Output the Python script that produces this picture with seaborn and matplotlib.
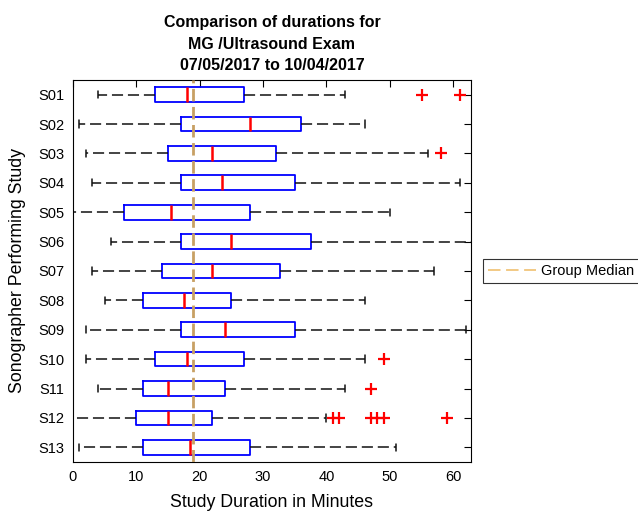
import matplotlib
matplotlib.use("Agg")
import matplotlib.pyplot as plt
import seaborn as sns
import pandas as pd

# Resumen de cada ecógrafo (minutos)
sonografos = ["S01", "S02", "S03", "S04", "S05", "S06", "S07",
              "S08", "S09", "S10", "S11", "S12", "S13"]
bigote_inf = [4, 1, 2, 3, 0, 6, 3, 5, 2, 2, 4, 0, 1]
q1 = [13, 17, 15, 17, 8, 17, 14, 11, 17, 13, 11, 10, 11]
mediana = [18, 28, 22, 23.5, 15.5, 25, 22, 17.5, 24, 18, 15, 15, 18.5]
q3 = [27, 36, 32, 35, 28, 37.5, 32.7, 25, 35, 27, 24, 22, 28]
bigote_sup = [43, 46, 56, 61, 50, 65, 57, 46, 62, 46, 43, 40, 51]
atipicos = [[55, 61], [], [58], [], [], [], [], [], [], [49], [47],
            [41, 42, 47, 48, 49, 59], []]
mediana_grupo = 19

# Tabla larga para seaborn: se repiten los cuartiles para que
# boxplot calcule exactamente el mismo resumen
filas = []
for i, s in enumerate(sonografos):
    valores = ([bigote_inf[i]] + [q1[i]] * 20 + [mediana[i]] * 10
               + [q3[i]] * 20 + [bigote_sup[i]] + atipicos[i])
    filas += [(s, v) for v in valores]
df = pd.DataFrame(filas, columns=["sonografo", "duracion"])

sns.set_style("white", {"xtick.direction": "in", "ytick.direction": "in",
                        "text.color": "black", "axes.labelcolor": "black",
                        "xtick.color": "black", "ytick.color": "black"})
plt.rcParams["font.family"] = ["Liberation Sans", "DejaVu Sans"]
plt.rcParams["lines.scale_dashes"] = False

fig = plt.figure(figsize=(6.38, 5.14), dpi=100)
ax = fig.add_axes([0.1144, 0.1012, 0.6238, 0.7432])

sns.boxplot(
    data=df, x="duracion", y="sonografo", order=sonografos,
    orient="h", fill=False, width=0.5, whis=1.5, ax=ax,
    boxprops={"color": "#0000ff", "linewidth": 1.3},
    medianprops={"color": "#ff0000", "linewidth": 1.8},
    whiskerprops={"color": "#111111", "linewidth": 1.1, "linestyle": (0, (8, 3.5))},
    capprops={"color": "#111111", "linewidth": 1.1},
    flierprops={"marker": "+", "markeredgecolor": "#ff0000",
                "markersize": 8, "markeredgewidth": 1.6},
)

# Mediana de todo el grupo
ax.axvline(mediana_grupo, color="#c8a064", linewidth=2, linestyle=(0, (9, 4)),
           label="Group Median", zorder=5)

ax.set_xlim(0, 62.8)
ax.set_ylim(12.5, -0.5)
ax.set_xticks(range(0, 61, 10))
ax.tick_params(axis="both", which="both", labelsize=10.5, length=5,
               width=0.8, color="black", labelcolor="black",
               top=True, right=True, pad=6)
for lado in ax.spines.values():
    lado.set_color("black")
    lado.set_linewidth(0.8)

ax.set_xlabel("Study Duration in Minutes", fontsize=12.8, labelpad=7)
ax.set_ylabel("Sonographer Performing Study", fontsize=12.8, labelpad=9)
ax.set_title("Comparison of durations for\nMG /Ultrasound Exam\n07/05/2017 to 10/04/2017",
             fontsize=11.5, fontweight="bold", pad=7, linespacing=1.55)

leg = ax.legend(loc="center left", bbox_to_anchor=(1.03, 0.5), fontsize=10.5,
                frameon=True, fancybox=False, handlelength=3.3, handletextpad=0.3,
                borderpad=0.35, borderaxespad=0)
leg.get_frame().set_edgecolor("black")
leg.get_frame().set_linewidth(0.8)
for linea in leg.get_lines():
    linea.set_linewidth(1.2)
    linea.set_color("#f0c070")

fig.savefig("out.png", dpi=100)
plt.close(fig)
